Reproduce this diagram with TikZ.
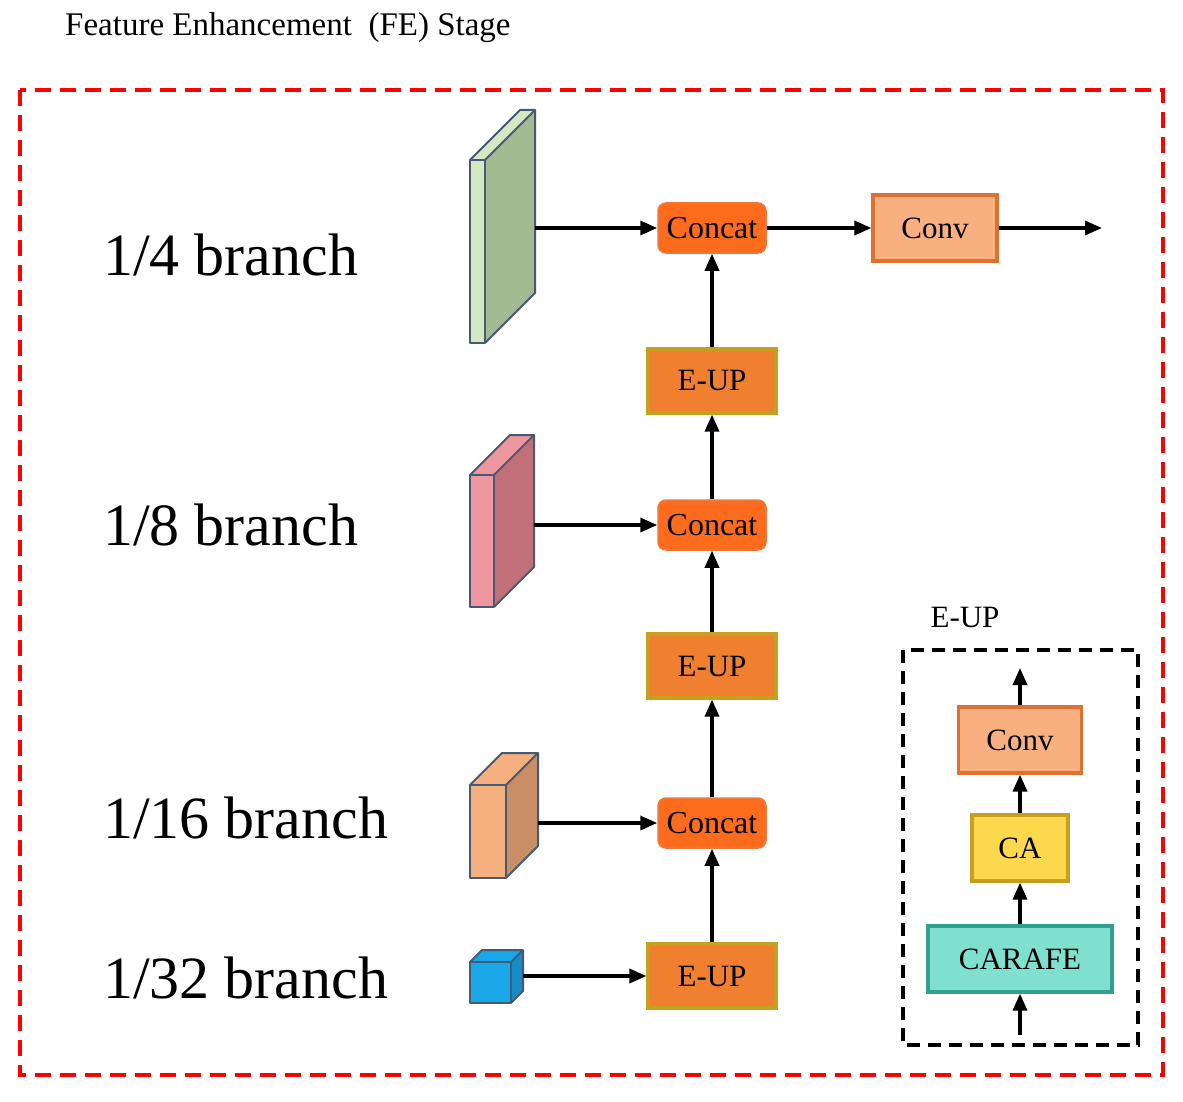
\documentclass[tikz,border=0pt]{standalone}
\usepackage{fontspec}
\setmainfont{Liberation Serif}
\usetikzlibrary{arrows.meta}
\definecolor{concatc}{RGB}{252,108,28}
\definecolor{concatd}{RGB}{240,120,60}
\definecolor{eupc}{RGB}{240,128,48}
\definecolor{gold}{RGB}{200,160,32}
\definecolor{convc}{RGB}{248,176,128}
\definecolor{convd}{RGB}{224,112,48}
\definecolor{cac}{RGB}{252,216,76}
\definecolor{carc}{RGB}{128,224,208}
\definecolor{card}{RGB}{48,160,144}
\definecolor{slabd}{RGB}{70,90,120}
\definecolor{gS}{RGB}{163,185,143}\definecolor{gF}{RGB}{213,232,192}
\definecolor{pS}{RGB}{193,112,122}\definecolor{pF}{RGB}{239,151,160}
\definecolor{oS}{RGB}{200,143,102}\definecolor{oF}{RGB}{245,176,128}
\definecolor{bS}{RGB}{20,140,200}\definecolor{bF}{RGB}{26,167,232}
\begin{document}
\begin{tikzpicture}[x=1pt,y=-1pt,
  arr/.style={line width=3.4pt,-{Triangle[length=17pt,width=14pt]}},
  concat/.style={rounded corners=8pt,fill=concatc,draw=concatd,line width=1.5pt,minimum width=108pt,minimum height=50pt,font=\fontsize{32}{32}\selectfont,inner sep=0pt},
  eup/.style={fill=eupc,draw=gold,line width=3.2pt,minimum width=128pt,minimum height=64pt,font=\fontsize{31}{31}\selectfont,inner sep=0pt},
  box/.style={line width=3.2pt,minimum height=66pt,font=\fontsize{31}{31}\selectfont,inner sep=0pt},
  br/.style={anchor=west,font=\fontsize{60}{60}\selectfont,inner sep=0pt},
  slab/.style={draw=slabd,line width=2pt,line join=round}]
\useasboundingbox (0,0) rectangle (1183,1102);
\node[anchor=west,font=\fontsize{33}{33}\selectfont,inner sep=0pt] (title) at (65,28) {Feature Enhancement\ \ (FE) Stage};
\draw[red,line width=3.4pt,dash pattern=on 16pt off 9pt] (20,90) rectangle (1163,1075);
\node[br] (b4) at (103,255) {1/4 branch};
\node[br] (b8) at (103,525) {1/8 branch};
\node[br] (b16) at (103,818) {1/16 branch};
\node[br] (b32) at (103,978) {1/32 branch};
\newcommand{\slab}[7]{%
 \fill[#6] (#2,#3)--(#2+#5,#3-#5)--(#2+#5,#4-#5)--(#2,#4)--cycle;
 \fill[#7] (#1,#3)--(#1+#5,#3-#5)--(#2+#5,#3-#5)--(#2,#3)--cycle;
 \fill[#7] (#1,#3) rectangle (#2,#4);
 \draw[slab] (#1,#3) rectangle (#2,#4);
 \draw[slab] (#1,#3)--(#1+#5,#3-#5)--(#2+#5,#3-#5)--(#2+#5,#4-#5)--(#2,#4) (#2,#3)--(#2+#5,#3-#5);}
\slab{470}{485}{160}{343}{50}{gS}{gF}
\slab{470}{494}{475}{607}{40}{pS}{pF}
\slab{470}{506}{785}{878}{32}{oS}{oF}
\slab{470}{511}{962}{1003}{12}{bS}{bF}
\coordinate (s4) at (535,228);
\coordinate (s8) at (534,525);
\coordinate (s16) at (538,823);
\coordinate (s32) at (523,976);
\node[concat] (c1) at (712,228) {Concat};
\node[concat] (c2) at (712,525) {Concat};
\node[concat] (c3) at (712,823) {Concat};
\node[eup] (e1) at (712,381) {E-UP};
\node[eup] (e2) at (712,666) {E-UP};
\node[eup] (e3) at (712,976) {E-UP};
\node[box,fill=convc,draw=convd,minimum width=124pt] (conv) at (935,228) {Conv};
\coordinate (out) at (1102,228);
\draw[arr] (s4)--(c1); \draw[arr] (s8)--(c2); \draw[arr] (s16)--(c3); \draw[arr] (s32)--(e3);
\draw[arr] (c1)--(conv); \draw[arr] (conv)--(out);
\draw[arr] (e3)--(c3); \draw[arr] (c3)--(e2); \draw[arr] (e2)--(c2); \draw[arr] (c2)--(e1); \draw[arr] (e1)--(c1);
\node[font=\fontsize{31}{31}\selectfont,inner sep=0pt] (il) at (965,617) {E-UP};
\draw[black,line width=3.2pt,dash pattern=on 13pt off 8pt] (903,650) rectangle (1138,1045);
\node[box,fill=convc,draw=convd,minimum width=123pt] (iconv) at (1020,740) {Conv};
\node[box,fill=cac,draw=gold,minimum width=96pt] (ica) at (1020,848) {CA};
\node[box,fill=carc,draw=card,minimum width=184pt] (icar) at (1020,959) {CARAFE};
\coordinate (iin) at (1020,1035);
\coordinate (iout) at (1020,668);
\draw[arr] (iin)--(icar); \draw[arr] (icar)--(ica); \draw[arr] (ica)--(iconv); \draw[arr] (iconv)--(iout);
\end{tikzpicture}
\end{document}
